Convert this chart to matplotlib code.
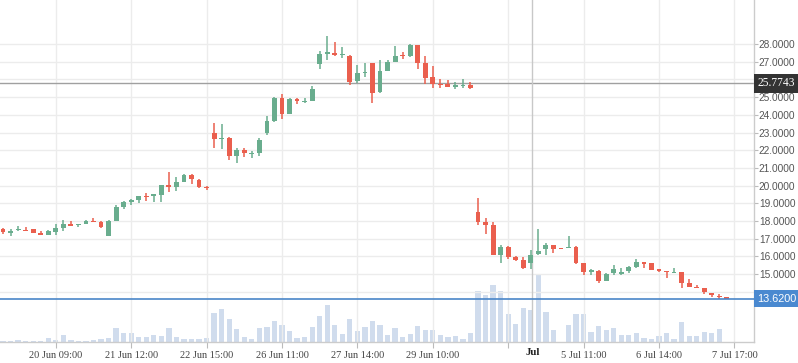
import matplotlib
matplotlib.use('Agg')
import matplotlib.pyplot as plt
import matplotlib.transforms as mtransforms
import numpy as np

# ---- data ----
opens = [17.55, 17.34, 17.47, 17.49, 17.53, 17.30, 17.20, 17.38, 17.58, 17.81,
         17.78, 17.85, 18.00, 17.94, 17.15, 17.98, 18.79, 19.07, 19.16, 19.40,
         19.44, 19.46, 20.06, 19.91, 20.23, 20.59, 20.34, 19.91, 22.95, 22.62,
         22.67, 21.68, 22.03, 21.80, 21.83, 22.95, 23.65, 24.96, 24.02, 24.87,
         24.72, 24.77, 26.86, 27.42, 27.51, 27.36, 27.35, 25.91, 26.36, 26.95,
         25.29, 26.47, 26.97, 27.40, 27.31, 27.96, 26.90, 26.11, 25.74, 25.72,
         25.59, 25.62, 25.66, 18.51, 17.97, 17.78, 16.06, 16.55, 15.95, 15.82,
         15.65, 16.12, 16.40, 16.66, 16.43, 16.45, 16.55, 15.65, 15.14, 15.16,
         14.60, 15.05, 15.01, 15.16, 15.42, 15.70, 15.65, 15.27, 15.14, 15.05,
         15.14, 14.47, 14.24, 14.24, 13.96, 13.79, 13.66]
highs = [17.59, 17.53, 17.70, 17.64, 17.53, 17.41, 17.47, 17.81, 18.04, 17.98,
         17.81, 18.04, 18.15, 17.98, 18.08, 18.90, 19.12, 19.27, 19.39, 19.57,
         19.53, 20.06, 20.78, 20.49, 20.64, 20.64, 20.38, 20.00, 23.52, 23.46,
         22.75, 22.13, 22.11, 21.94, 22.67, 23.95, 25.02, 25.15, 24.96, 24.96,
         24.96, 25.62, 27.62, 28.47, 28.13, 27.83, 27.40, 26.84, 26.90, 26.95,
         27.07, 27.12, 27.91, 27.57, 28.02, 27.96, 27.35, 26.73, 26.00, 25.94,
         25.83, 26.00, 25.83, 19.30, 18.18, 17.95, 16.66, 16.58, 16.00, 15.97,
         16.34, 17.52, 16.77, 16.66, 16.43, 17.16, 16.58, 15.65, 15.27, 15.22,
         15.09, 15.50, 15.37, 15.48, 15.87, 15.70, 15.65, 15.31, 15.14, 15.37,
         15.14, 14.75, 14.36, 14.24, 13.96, 13.85, 13.66]
lows = [17.27, 17.15, 17.41, 17.41, 17.32, 17.20, 17.20, 17.20, 17.43, 17.70,
        17.64, 17.85, 17.94, 17.58, 17.15, 17.98, 18.70, 18.92, 19.01, 19.14,
        19.07, 19.10, 19.63, 19.72, 20.23, 20.08, 19.86, 19.74, 22.11, 22.05,
        21.45, 21.26, 21.60, 21.58, 21.68, 22.88, 23.61, 23.74, 24.02, 24.60,
        24.66, 24.77, 26.56, 27.08, 27.31, 27.23, 25.68, 25.81, 26.13, 24.67,
        25.21, 26.47, 26.97, 27.16, 27.27, 26.56, 25.72, 25.51, 25.51, 25.57,
        25.46, 25.53, 25.46, 17.75, 17.24, 16.06, 15.61, 15.84, 15.72, 15.27,
        15.27, 16.06, 16.06, 16.19, 16.40, 16.45, 15.57, 14.94, 14.97, 14.49,
        14.60, 14.94, 14.94, 15.09, 15.37, 15.37, 15.26, 15.10, 14.80, 15.05,
        14.24, 14.26, 14.19, 13.85, 13.68, 13.59, 13.62]
closes = [17.38, 17.44, 17.53, 17.43, 17.32, 17.20, 17.41, 17.58, 17.81, 17.73,
          17.81, 18.00, 17.94, 17.66, 17.98, 18.77, 19.07, 19.18, 19.39, 19.35,
          19.48, 20.06, 19.93, 20.21, 20.59, 20.36, 19.91, 19.86, 22.62, 22.67,
          21.68, 22.02, 21.83, 21.85, 22.56, 23.63, 24.96, 24.02, 24.87, 24.76,
          24.77, 25.43, 27.46, 27.57, 27.40, 27.42, 25.85, 26.34, 26.41, 25.23,
          26.45, 27.01, 27.35, 27.31, 27.96, 26.92, 26.07, 25.76, 25.68, 25.57,
          25.66, 25.66, 25.50, 17.95, 17.80, 16.06, 16.53, 15.95, 15.82, 15.37,
          16.10, 16.32, 16.66, 16.43, 16.40, 16.49, 15.61, 15.12, 15.20, 14.60,
          15.03, 15.31, 15.14, 15.42, 15.70, 15.59, 15.26, 15.16, 15.10, 15.09,
          14.49, 14.26, 14.19, 14.00, 13.81, 13.70, 13.62]
volumes = [4, 4, 7, 4, 2, 4, 13, 7, 22, 7,
           2, 4, 7, 10, 13, 43, 26, 28, 16, 16,
           22, 19, 43, 16, 10, 10, 10, 13, 88, 100,
           70, 40, 16, 10, 43, 46, 64, 52, 34, 13,
           16, 46, 79, 112, 52, 25, 70, 34, 46, 64,
           52, 22, 43, 15, 24, 48, 36, 36, 21, 15,
           18, 9, 27, 153, 141, 171, 153, 84, 54, 102,
           96, 204, 90, 36, 1, 51, 84, 84, 30, 48,
           36, 42, 21, 21, 27, 12, 9, 18, 27, 9,
           60, 18, 18, 30, 27, 39, 1]
tick_pos = [7, 17, 27, 37, 47, 57, 67, 77, 87, 97]
tick_labels = ['20 Jun 09:00', '21 Jun 12:00', '22 Jun 15:00', '26 Jun 11:00',
               '27 Jun 14:00', '29 Jun 10:00', '', '5 Jul 11:00', '6 Jul 14:00',
               '7 Jul 17:00']
price_ticks = list(range(14, 29))
last_price = 13.62
cursor_price = 25.7743
cursor_x = 70.2
cursor_label = 'Jul'

GREEN = '#69ad8e'
RED = '#ea5f4e'
VOL = '#cbd9eb'

fig = plt.figure(figsize=(7.98, 3.63), dpi=100)
ax = fig.add_axes([0, 21 / 363, 754 / 798, 342 / 363])
axv = ax.twinx()
axv.set_zorder(0)
ax.set_zorder(1)
ax.patch.set_visible(False)

x = np.arange(len(opens))
o = np.array(opens); c = np.array(closes)
h = np.array(highs); l = np.array(lows)
up = c >= o
cols = np.where(up, GREEN, RED)

# volume
axv.bar(x, volumes, width=0.7, color=VOL, edgecolor='none', alpha=0.9)
axv.set_ylim(0, max(volumes) / 0.199)
axv.set_yticks([])
for s in axv.spines.values():
    s.set_visible(False)

# grid
for p in price_ticks:
    ax.axhline(p, color='#ececec', lw=1, zorder=0)
for t in tick_pos:
    ax.axvline(t, color='#ececec', lw=1, zorder=0)

# candles
ax.vlines(x, l, h, colors=cols, lw=1.1, zorder=3)
body_low = np.minimum(o, c)
body_h = np.maximum(np.abs(c - o), 0.07)
ax.bar(x, body_h, bottom=body_low, width=0.64, color=cols, edgecolor='none', zorder=4)

# last price line & cursor
ax.axhline(last_price, color='#4a86c8', lw=1.2, zorder=5)
ax.axhline(cursor_price, color='#a0a0a0', lw=1.0, zorder=2)
ax.axvline(cursor_x, color='#c8c8c8', lw=1.0, zorder=2)

ax.set_xlim(-0.4, 99.6)
ax.set_ylim(11.164, 30.486)

ax.yaxis.tick_right()
ax.set_yticks(price_ticks)
ax.set_yticklabels(['' if p in (14, 26) else f'{p:.4f}' for p in price_ticks],
                   fontfamily='Liberation Sans', fontsize=7.3, color='#555555')
ax.set_xticks(tick_pos)
ax.set_xticklabels(tick_labels, fontfamily='Liberation Serif', fontsize=7.5, color='#444444')
ax.tick_params(axis='y', which='both', length=3, width=0.8, color='#bbbbbb', pad=0.5)
ax.tick_params(axis='x', which='both', length=4, width=0.8, color='#bbbbbb', pad=2.5)

for side in ('top', 'left'):
    ax.spines[side].set_visible(False)
for side in ('right', 'bottom'):
    ax.spines[side].set_color('#cccccc')
    ax.spines[side].set_linewidth(1)

trans = mtransforms.blended_transform_factory(ax.transAxes, ax.transData)
ax.text(1.0045, last_price, f'{last_price:.4f}', transform=trans, ha='left', va='center',
        fontfamily='Liberation Sans', fontsize=7.8, color='white', zorder=10, clip_on=False,
        bbox=dict(boxstyle='square,pad=0.3', fc='#4a89d0', ec='none'))
ax.text(1.0045, cursor_price, f'{cursor_price:.4f}', transform=trans, ha='left', va='center',
        fontfamily='Liberation Serif', fontsize=8.3, color='white', zorder=10, clip_on=False,
        bbox=dict(boxstyle='square,pad=0.3', fc='#333333', ec='none'))
transx = mtransforms.blended_transform_factory(ax.transData, ax.transAxes)
ax.text(cursor_x, -0.032, cursor_label, transform=transx, ha='center', va='center',
        fontfamily='Liberation Serif', fontsize=7.8, fontweight='bold', color='#222222',
        clip_on=False)

fig.savefig('out.png', dpi=100)
